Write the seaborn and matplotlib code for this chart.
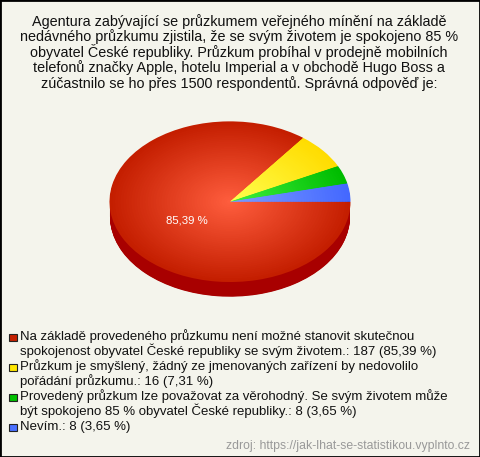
import numpy as np
import matplotlib
matplotlib.use("Agg")
import matplotlib.pyplot as plt
import seaborn as sns
from matplotlib.colors import to_rgb
from matplotlib.patches import Rectangle

sns.set_theme(style="white")
plt.rcParams['font.family'] = ['Liberation Sans', 'DejaVu Sans']

# ---- data ----
categories = [
    "Na základě provedeného průzkumu není možné stanovit skutečnou\nspokojenost obyvatel České republiky se svým životem.",
    "Průzkum je smyšlený, žádný ze jmenovaných zařízení by nedovolilo\npořádání průzkumu.",
    "Provedený průzkum lze považovat za věrohodný. Se svým životem může\nbýt spokojeno 85 % obyvatel České republiky.",
    "Nevím.",
]
counts = [187, 16, 8, 8]
edge_colors = ["#c41e00", "#ffdc00", "#00bc00", "#4468ff"]
center_colors = ["#ff5e3e", "#ffff50", "#40f040", "#7c9cff"]
side_colors = ["#a80000", "#c8a800", "#008800", "#2040c0"]
legend_colors = ["#c42000", "#ffe600", "#00c000", "#4a70ff"]
title = ("Agentura zabývající se průzkumem veřejného mínění na základě\n"
         "nedávného průzkumu zjistila, že se svým životem je spokojeno 85 %\n"
         "obyvatel České republiky. Průzkum probíhal v prodejně mobilních\n"
         "telefonů značky Apple, hotelu Imperial a v obchodě Hugo Boss a\n"
         "zúčastnilo se ho přes 1500 respondentů. Správná odpověď je:")
source = "zdroj: https://jak-lhat-se-statistikou.vyplnto.cz"

total = sum(counts)
pcts = [c / total * 100 for c in counts]

W, H = 480, 457
BG = "#f4f4ec"
fig = plt.figure(figsize=(W / 100, H / 100), dpi=100, facecolor=BG)

def fy(px):
    return 1 - px / H

# pie axes: 1 x-unit = 1 px, 1 y-unit = SQ px (ellipse)
SQ = 80 / 120
ax = fig.add_axes([0, 0, 1, 1])
ax.set_facecolor("none")
cx, cy_px, R, depth = 230, 201.7, 120, 15
cy = (H - cy_px) / SQ

# extrusion (side)
for k in np.linspace(depth, 0.5, 30):
    ax.pie(counts, colors=side_colors, startangle=0, counterclock=False,
           radius=R, center=(cx, cy - k / SQ), frame=True,
           wedgeprops=dict(linewidth=0))

# top face with radial gradient
N = 45
for t in np.linspace(0, 1, N):
    r = R * (1 - t) + 0.5
    cols = [tuple(np.array(to_rgb(e)) * (1 - t) + np.array(to_rgb(c)) * t)
            for e, c in zip(edge_colors, center_colors)]
    ax.pie(counts, colors=cols, startangle=0, counterclock=False,
           radius=r, center=(cx, cy), frame=True,
           wedgeprops=dict(linewidth=0, antialiased=True))

ax.set_xlim(0, W)
ax.set_ylim(0, H / SQ)
ax.set_aspect("auto")
ax.axis("off")

# label on big slice
fig.text(186.5 / W, fy(220), f"{pcts[0]:.2f} %".replace(".", ","),
         color="white", fontsize=8.2, ha="center", va="center")

# title, line by line
for i, line in enumerate(title.split("\n")):
    fig.text(239 / W, fy(26 + 15.4 * i), line, ha="center", va="baseline",
             fontsize=10.4, color="#111111")

# legend
base = 340.3
step = 15.0
li = 0
for lab, n, p, col in zip(categories, counts, pcts, legend_colors):
    pct_str = f"{p:.2f}".replace(".", ",")
    txt = f"{lab}: {n} ({pct_str} %)"
    yb = base + step * li
    fig.patches.append(Rectangle((9 / W, fy(yb + 0.7)), 7.5 / W, 7.5 / H,
                                 transform=fig.transFigure, facecolor=col,
                                 edgecolor="#222222", linewidth=0.8))
    for line in txt.split("\n"):
        fig.text(20 / W, fy(base + step * li), line, ha="left", va="baseline",
                 fontsize=9.5, color="#111111")
        li += 1

# source
fig.text(470 / W, fy(449), source, ha="right", va="baseline", fontsize=8.85,
         color="#999999")

# border
fig.patches.append(Rectangle((0, 0), 1, 1, transform=fig.transFigure,
                             fill=False, edgecolor="black", linewidth=2))

fig.savefig("out.png", dpi=100, facecolor=BG)
